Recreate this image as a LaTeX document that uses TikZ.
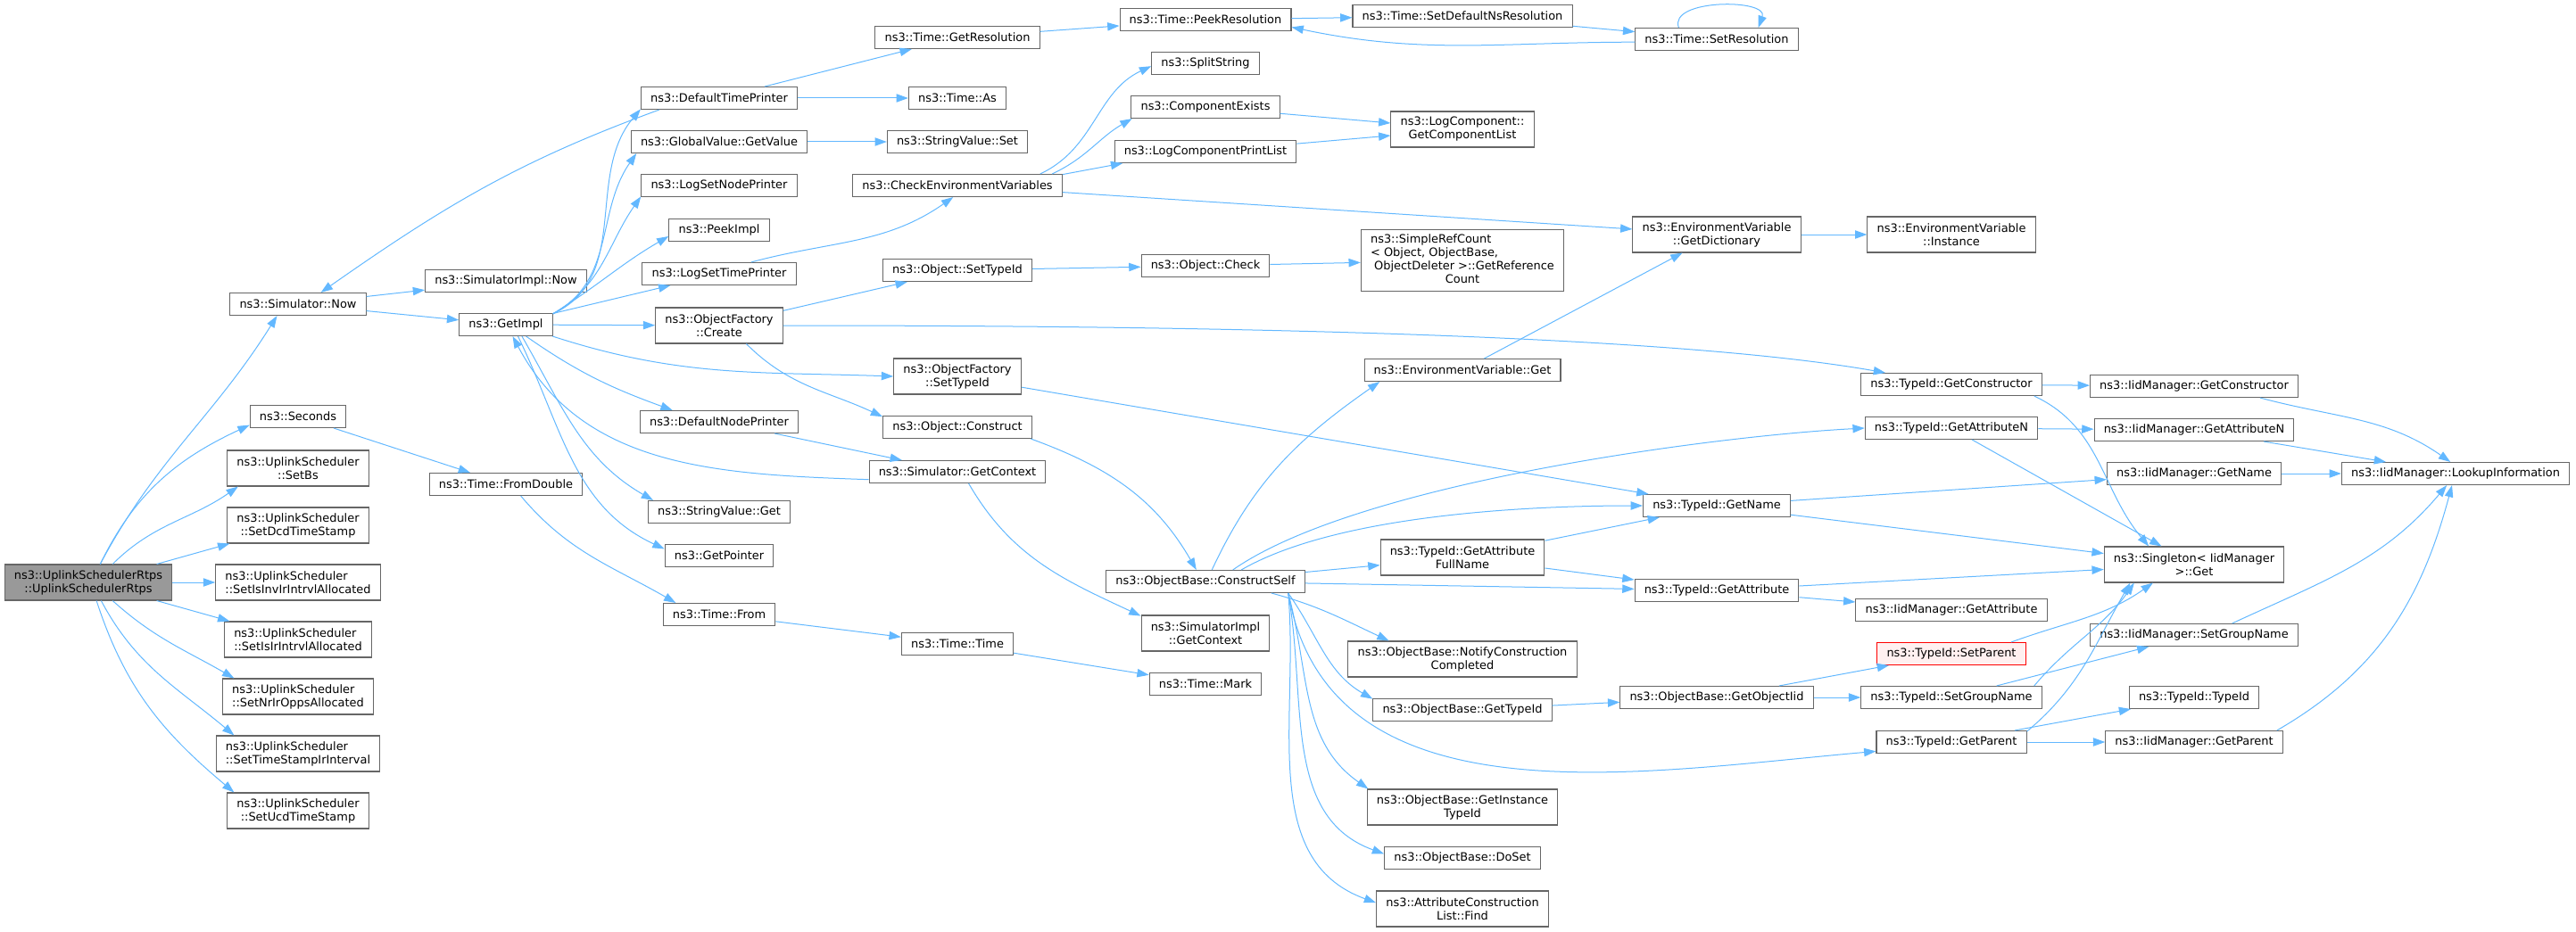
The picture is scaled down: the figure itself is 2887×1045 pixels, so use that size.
\documentclass[tikz,border=0pt]{standalone}
\usepackage{fontspec}
\setmainfont{DejaVu Sans}
\usetikzlibrary{arrows.meta}
\definecolor{edgeblue}{HTML}{63B8FF}
\definecolor{boxgray}{HTML}{666666}
\definecolor{rootgray}{HTML}{999999}
\definecolor{cutpink}{HTML}{FFF0F0}
\begin{document}
\begin{tikzpicture}[x=0.75pt,y=0.75pt,
	fn/.style={draw=boxgray,fill=white,line width=0.8pt,inner xsep=8pt,inner ysep=2pt,
		minimum height=18.75pt,font=\fontsize{9.7}{11.25}\selectfont},
	fn2/.style={fn,align=center,minimum height=30pt},
	fnl/.style={fn2,align=left},
	rootfn/.style={fn2,fill=rootgray},
	cutfn/.style={fn,draw=red,fill=cutpink},
	call/.style={draw=edgeblue,line width=0.75pt,-{Triangle[length=10pt,width=7pt]}}]
\useasboundingbox (0,0) rectangle (2887,-1045);
\node[rootfn] (root) at (99,-653) {ns3::UplinkSchedulerRtps\\::UplinkSchedulerRtps};
\node[fn] (simnow) at (334,-341) {ns3::Simulator::Now};
\node[fn] (seconds) at (334,-467) {ns3::Seconds};
\node[fn2] (setbs) at (334,-525) {ns3::UplinkScheduler\\::SetBs};
\node[fn2] (setdcd) at (334,-589) {ns3::UplinkScheduler\\::SetDcdTimeStamp};
\node[fnl] (setinv) at (334,-653) {ns3::UplinkScheduler\\::SetIsInvIrIntrvlAllocated};
\node[fnl] (setisir) at (334,-717) {ns3::UplinkScheduler\\::SetIsIrIntrvlAllocated};
\node[fnl] (setnrir) at (334,-781) {ns3::UplinkScheduler\\::SetNrIrOppsAllocated};
\node[fnl] (settsir) at (334,-845) {ns3::UplinkScheduler\\::SetTimeStampIrInterval};
\node[fn2] (setucd) at (334,-909) {ns3::UplinkScheduler\\::SetUcdTimeStamp};
\node[fn] (simimplnow) at (567,-315) {ns3::SimulatorImpl::Now};
\node[fn] (getimpl) at (567,-364) {ns3::GetImpl};
\node[fn] (fromdouble) at (567,-543) {ns3::Time::FromDouble};
\node[fn] (deftimeprinter) at (806,-110) {ns3::DefaultTimePrinter};
\node[fn] (getvalue) at (806,-159) {ns3::GlobalValue::GetValue};
\node[fn] (lognodeprinter) at (806,-208) {ns3::LogSetNodePrinter};
\node[fn] (peekimpl) at (806,-258) {ns3::PeekImpl};
\node[fn] (logtimeprinter) at (806,-307) {ns3::LogSetTimePrinter};
\node[fn2] (ofcreate) at (806,-365) {ns3::ObjectFactory\\::Create};
\node[fn] (defnodeprinter) at (806,-473) {ns3::DefaultNodePrinter};
\node[fn] (strget) at (806,-574) {ns3::StringValue::Get};
\node[fn] (getpointer) at (806,-623) {ns3::GetPointer};
\node[fn] (timefrom) at (806,-689) {ns3::Time::From};
\node[fn] (getres) at (1073,-42) {ns3::Time::GetResolution};
\node[fn] (timeas) at (1073,-110) {ns3::Time::As};
\node[fn] (strset) at (1073,-159) {ns3::StringValue::Set};
\node[fn] (checkenv) at (1073,-208) {ns3::CheckEnvironmentVariables};
\node[fn] (objsettypeid) at (1073,-303) {ns3::Object::SetTypeId};
\node[fn2] (ofsettypeid) at (1073,-422) {ns3::ObjectFactory\\::SetTypeId};
\node[fn] (objconstruct) at (1073,-479) {ns3::Object::Construct};
\node[fn] (simgetctx) at (1073,-529) {ns3::Simulator::GetContext};
\node[fn] (timetime) at (1073,-722) {ns3::Time::Time};
\node[fn] (peekres) at (1351,-22) {ns3::Time::PeekResolution};
\node[fn] (splitstring) at (1351,-71) {ns3::SplitString};
\node[fn] (compexists) at (1351,-120) {ns3::ComponentExists};
\node[fn] (logprintlist) at (1351,-170) {ns3::LogComponentPrintList};
\node[fn] (objcheck) at (1351,-298) {ns3::Object::Check};
\node[fn] (constructself) at (1351,-652) {ns3::ObjectBase::ConstructSelf};
\node[fn2] (simimplctx) at (1351,-710) {ns3::SimulatorImpl\\::GetContext};
\node[fn] (timemark) at (1351,-767) {ns3::Time::Mark};
\node[fn] (setdefns) at (1639,-18) {ns3::Time::SetDefaultNsResolution};
\node[fn2] (getcomplist) at (1639,-145) {ns3::LogComponent::\\GetComponentList};
\node[fn,minimum height=51.75pt] (refcount) at (1639,-292) {\begin{tabular}{@{}l@{}}ns3::SimpleRefCount\\< Object, ObjectBase,\\\ ObjectDeleter >::GetReference\\\multicolumn{1}{@{}c@{}}{Count}\end{tabular}};
\node[fn] (envget) at (1639,-415) {ns3::EnvironmentVariable::Get};
\node[fn2] (fullname) at (1639,-625) {ns3::TypeId::GetAttribute\\FullName};
\node[fn2] (notify) at (1639,-739) {ns3::ObjectBase::NotifyConstruction\\Completed};
\node[fn] (obgettypeid) at (1639,-796) {ns3::ObjectBase::GetTypeId};
\node[fn2] (getinstance) at (1639,-905) {ns3::ObjectBase::GetInstance\\TypeId};
\node[fn] (doset) at (1639,-962) {ns3::ObjectBase::DoSet};
\node[fn2] (attrfind) at (1639,-1019) {ns3::AttributeConstruction\\List::Find};
\node[fn] (setres) at (1924,-44) {ns3::Time::SetResolution};
\node[fn2] (getdict) at (1924,-263) {ns3::EnvironmentVariable\\::GetDictionary};
\node[fn] (tidgetname) at (1924,-567) {ns3::TypeId::GetName};
\node[fn] (tidgetattr) at (1924,-662) {ns3::TypeId::GetAttribute};
\node[fn] (getobjectiid) at (1924,-782) {ns3::ObjectBase::GetObjectIid};
\node[fn2] (envinstance) at (2187,-263) {ns3::EnvironmentVariable\\::Instance};
\node[fn] (tidgetctor) at (2187,-431) {ns3::TypeId::GetConstructor};
\node[fn] (tidgetattrn) at (2187,-480) {ns3::TypeId::GetAttributeN};
\node[fn] (iidgetattr) at (2187,-684) {ns3::IidManager::GetAttribute};
\node[cutfn] (setparent) at (2187,-733) {ns3::TypeId::SetParent};
\node[fn] (tidsetgroup) at (2187,-782) {ns3::TypeId::SetGroupName};
\node[fn] (tidgetparent) at (2187,-832) {ns3::TypeId::GetParent};
\node[fn] (iidgetctor) at (2459,-433) {ns3::IidManager::GetConstructor};
\node[fn] (iidgetattrn) at (2459,-482) {ns3::IidManager::GetAttributeN};
\node[fn] (iidgetname) at (2459,-531) {ns3::IidManager::GetName};
\node[fn2] (singleton) at (2459,-633) {ns3::Singleton< IidManager\\ >::Get};
\node[fn] (iidsetgroup) at (2459,-712) {ns3::IidManager::SetGroupName};
\node[fn] (tidtypeid) at (2459,-782) {ns3::TypeId::TypeId};
\node[fn] (iidgetparent) at (2459,-832) {ns3::IidManager::GetParent};
\node[fn] (lookup) at (2752,-531) {ns3::IidManager::LookupInformation};

\draw[call] (root.57) to[out=62,in=-122] (simnow.209);
\draw[call] (root.57) to[out=64,in=205] (seconds.190);
\draw[call] (root.37) to[out=45,in=215] (setbs.197);
\draw[call] (root.15) -- (setdcd.195);
\draw[call] (root) -- (setinv);
\draw[call] (root.-15) -- (setisir.165);
\draw[call] (root.-37) to[out=-42,in=150] (setnrir.164);
\draw[call] (root.-55) to[out=-62,in=140] (settsir.164);
\draw[call] (root.-66) to[out=-72,in=140] (setucd.164);
\draw[call] (simnow) -- (simimplnow);
\draw[call] (simnow) -- (getimpl);
\draw[call] (seconds) -- (fromdouble);
\draw[call] (fromdouble.-38) to[out=-50,in=150] (timefrom.165);
\draw[call] (timefrom) -- (timetime);
\draw[call] (timetime) -- (timemark);
\draw[call] (deftimeprinter.191) to[out=200,in=35] (simnow.27);
\draw[call] (getimpl.13) to[out=25,in=230] (deftimeprinter.188);
\draw[call] (getimpl.13) to[out=28,in=235] (getvalue.188);
\draw[call] (getimpl.13) to[out=30,in=235] (lognodeprinter.188);
\draw[call] (getimpl.13) to[out=32,in=210] (peekimpl.187);
\draw[call] (getimpl) -- (logtimeprinter);
\draw[call] (getimpl) -- (ofcreate);
\draw[call] (getimpl.-14) to[out=-18,in=178] (ofsettypeid.west);
\draw[call] (getimpl.-30) to[out=-35,in=160] (defnodeprinter.166);
\draw[call] (getimpl.-36) to[out=-60,in=150] (strget.170);
\draw[call] (getimpl.-44) to[out=-64,in=155] (getpointer.173);
\draw[call] (simgetctx.185) to[out=178,in=-62] (getimpl.-60);
\draw[call] (defnodeprinter) -- (simgetctx);
\draw[call] (logtimeprinter.20) to[out=15,in=215] (checkenv.250);
\draw[call] (deftimeprinter) -- (getres);
\draw[call] (deftimeprinter) -- (timeas);
\draw[call] (getvalue) -- (strset);
\draw[call] (getres) -- (peekres);
\draw[call] (peekres) -- (setdefns);
\draw[call] (setdefns) -- (setres);
\draw[call] (setres.182) to[out=180,in=-12] (peekres.-5);
\draw[call] ([xshift=-32pt]setres.north) .. controls +(110:26pt) and +(70:26pt) .. ([xshift=35pt]setres.north);
\draw[call] (checkenv.8) to[out=25,in=205] (splitstring.183);
\draw[call] (checkenv.7) to[out=25,in=210] (compexists.189);
\draw[call] (checkenv.6) -- (logprintlist.188);
\draw[call] (checkenv) -- (getdict);
\draw[call] (compexists) -- (getcomplist);
\draw[call] (logprintlist) -- (getcomplist);
\draw[call] (getdict) -- (envinstance);
\draw[call] (envget) -- (getdict);
\draw[call] (ofcreate) -- (objsettypeid);
\draw[call] (objsettypeid) -- (objcheck);
\draw[call] (objcheck) -- (refcount);
\draw[call] (ofcreate.east) to[out=0,in=170,looseness=0.6] (tidgetctor.170);
\draw[call] (ofcreate.-34) to[out=-45,in=155] (objconstruct.172);
\draw[call] (ofsettypeid) -- (tidgetname);
\draw[call] (objconstruct.-9) to[out=-20,in=120] (constructself.128);
\draw[call] (simgetctx.-46) to[out=-60,in=155] (simimplctx.165);
\draw[call] (constructself.61) to[out=65,in=215] (envget.188);
\draw[call] (constructself.23) to[out=35,in=183,looseness=0.6] (tidgetattrn.west);
\draw[call] (constructself.18) to[out=30,in=180,looseness=0.7] (tidgetname.west);
\draw[call] (constructself) -- (fullname);
\draw[call] (constructself) -- (tidgetattr);
\draw[call] (constructself.-10) to[out=-15,in=155] (notify.166);
\draw[call] (constructself.-8) to[out=-55,in=150] (obgettypeid.173);
\draw[call] (constructself.-8) to[out=-80,in=185] (tidgetparent.187);
\draw[call] (constructself.-8) to[out=-75,in=145] (getinstance.169);
\draw[call] (constructself.-8) to[out=-80,in=160] (doset.177);
\draw[call] (constructself.-8) to[out=-85,in=160] (attrfind.176);
\draw[call] (fullname) -- (tidgetname);
\draw[call] (fullname) -- (tidgetattr);
\draw[call] (tidgetname) -- (iidgetname);
\draw[call] (tidgetname) -- (singleton);
\draw[call] (tidgetattr) -- (singleton);
\draw[call] (tidgetattr) -- (iidgetattr);
\draw[call] (obgettypeid) -- (getobjectiid);
\draw[call] (getobjectiid) -- (setparent);
\draw[call] (getobjectiid) -- (tidsetgroup);
\draw[call] (tidgetctor) -- (iidgetctor);
\draw[call] (tidgetctor.-8) to[out=-25,in=130] (singleton.158);
\draw[call] (tidgetattrn) -- (iidgetattrn);
\draw[call] (tidgetattrn) -- (singleton);
\draw[call] (iidgetctor.-10) to[out=-15,in=145] (lookup.114);
\draw[call] (iidgetattrn) -- (lookup);
\draw[call] (iidgetname) -- (lookup);
\draw[call] (iidsetgroup.17) to[out=25,in=-130] (lookup.233);
\draw[call] (iidgetparent.8) to[out=30,in=-105] (lookup.-107);
\draw[call] (setparent.11) to[out=20,in=-145] (singleton.204);
\draw[call] (tidsetgroup.8) to[out=50,in=-125] (singleton.197);
\draw[call] (tidsetgroup) -- (iidsetgroup);
\draw[call] (tidgetparent.8) to[out=40,in=-120] (singleton.196);
\draw[call] (tidgetparent) -- (tidtypeid);
\draw[call] (tidgetparent) -- (iidgetparent);
\end{tikzpicture}
\end{document}
